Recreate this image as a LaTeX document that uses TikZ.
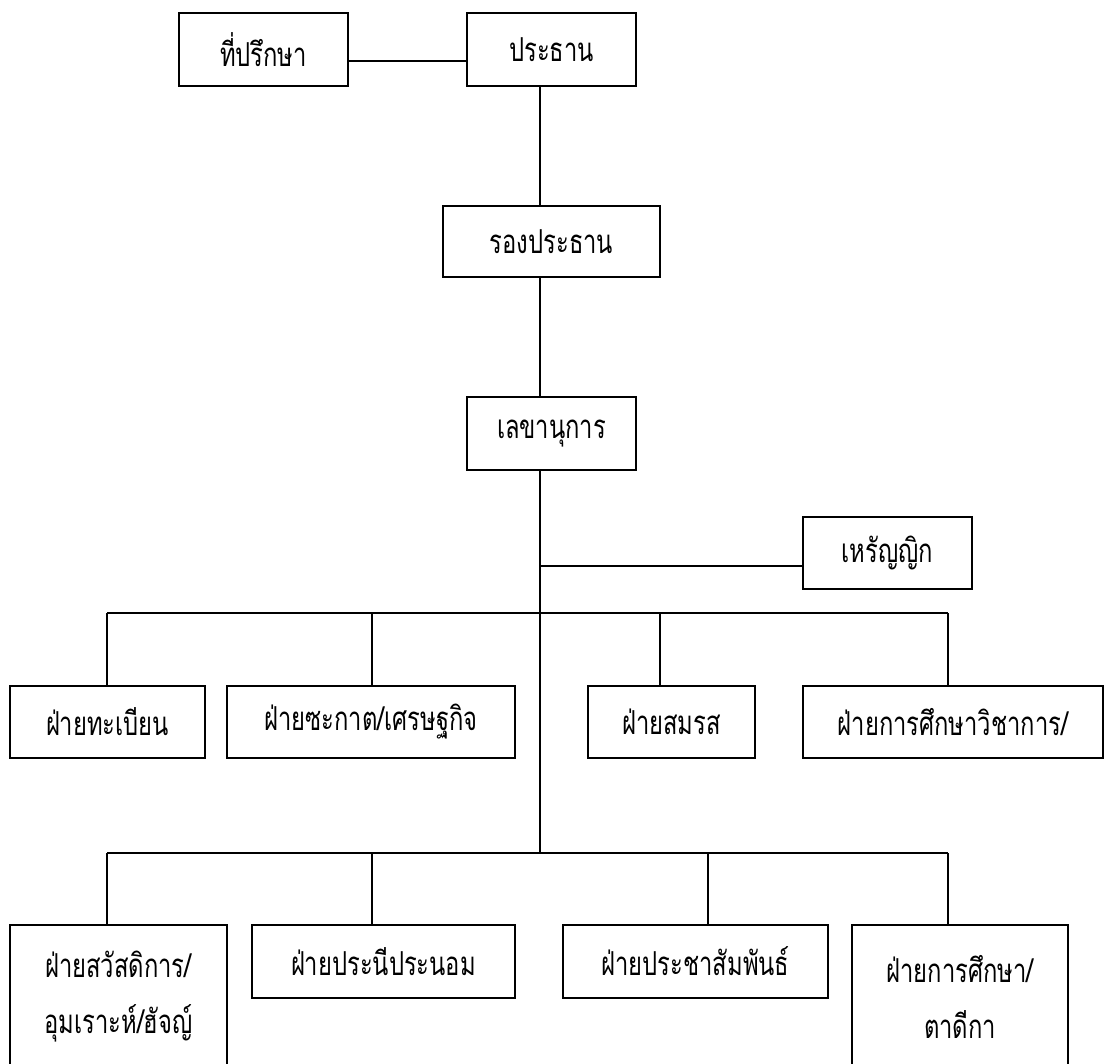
\documentclass[tikz,border=0pt]{standalone}
\usepackage{fontspec}
\newfontfamily\thaifont[Script=Thai,FakeStretch=0.72]{Loma}
\usepackage{tikz}
\usetikzlibrary{calc,positioning}
\tikzset{
  org chart/.style = {
    x = 1pt, y = -1pt,
    line width = 1.5pt,
    % box of one office
    unit/.style = {draw, inner sep=0pt, align=center,
      font=\thaifont\fontsize{33}{56}\selectfont},
  },
}

\begin{document}
\begin{tikzpicture}[org chart]
\def\unit(#1)#2<#3,#4>[#5]#6at (#7);{
	\node[unit, minimum width=#3, minimum height=#4] (#1) at (#7) {#5}; }

\useasboundingbox (0,0) rectangle (1106,1064);
%---------------------------------------------
\unit (advisor)   <169pt,73pt>[ที่ปรึกษา]  at (263.5,49.5);
\unit (president) <169pt,73pt>[ประธาน]    at (551.5,49.5);
\unit (vice)      <217pt,71pt>[รองประธาน] at (551.5,241.5);
\unit (secretary) <169pt,73pt>[เลขานุการ]  at (551.5,433.5);
\unit (treasurer) <169pt,72pt>[เหรัญญิก]  at (887.5,553);

\unit (registry)  <195pt,72pt>[ฝ่ายทะเบียน]           at (107.5,722);
\unit (zakat)     <288pt,72pt>[ฝ่ายซะกาต/เศรษฐกิจ]     at (371,722);
\unit (marriage)  <167pt,72pt>[ฝ่ายสมรส]             at (671.5,722);
\unit (academic)  <300pt,72pt>[ฝ่ายการศึกษาวิชาการ/]   at (953,722);

\unit (welfare)   <217pt,143pt>[ฝ่ายสวัสดิการ/\\อุมเราะห์/ฮัจญ์] at (118.5,996.5);
\unit (mediation) <263pt,73pt>[ฝ่ายประนีประนอม]       at (383.5,961.5);
\unit (publicity) <265pt,73pt>[ฝ่ายประชาสัมพันธ์]      at (695.5,961.5);
\unit (tadika)    <216pt,143pt>[ฝ่ายการศึกษา/\\ตาดีกา]  at (960,996.5);

%---------------------------------------------
\coordinate (spine) at (540,0);
\coordinate (bus up)  at (540,613);
\coordinate (bus low) at (540,853);

\draw ([yshift=-11.5pt]advisor.east) -- ([yshift=-11.5pt]president.west);
\draw (spine |- president.south) -- (spine |- vice.north);
\draw (spine |- vice.south) -- (spine |- secretary.north);
\draw (spine |- secretary.south) -- (bus low);
\draw ([yshift=-13pt]spine |- treasurer.west) -- ([yshift=-13pt]treasurer.west);

\draw (107,613) -- (948,613);
\foreach \x/\n in {107/registry, 372/zakat, 660/marriage, 948/academic}
	\draw (\x,613) -- (\x,613 |- \n.north);
\draw (107,853) -- (948,853);
\foreach \x/\n in {107/welfare, 372/mediation, 708/publicity, 948/tadika}
	\draw (\x,853) -- (\x,853 |- \n.north);

\end{tikzpicture}
\end{document}
